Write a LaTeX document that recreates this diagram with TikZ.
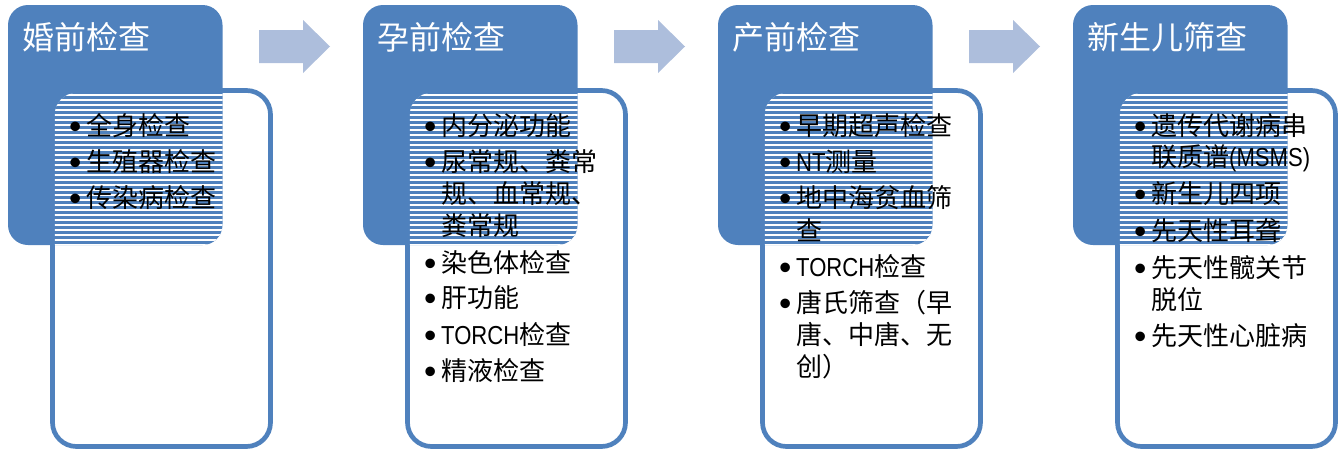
\documentclass[tikz,border=0pt]{standalone}
\usepackage{fontspec}
\setmainfont{Noto Sans CJK SC}
\newfontfamily\lat{Liberation Sans}
\definecolor{mblue}{HTML}{4F81BD}
\definecolor{arrblue}{HTML}{ADBEDC}
\newcommand{\nar}[1]{\scalebox{0.85}[1]{\lat #1}}
\newcommand{\bul}{\raisebox{-3pt}{\scalebox{1.35}{\lat\textbullet}}\hspace{4.7pt}}
\begin{document}
\begin{tikzpicture}[x=1pt,y=-1pt,
  titletext/.style={anchor=west, inner sep=0pt, text=white, font=\fontsize{32}{38}\selectfont},
  itemtext/.style={anchor=west, inner sep=0pt, text=black, font=\fontsize{26}{31}\selectfont},
  bluebox/.style={fill=mblue, rounded corners=20pt},
  listbox/.style={draw=mblue, fill=white, line width=4.7pt, rounded corners=24pt},
  flowarrow/.style={fill=arrblue}]
\useasboundingbox (0,0) rectangle (1344,450);
% boxes
\foreach \dx in {0,355,710,1065}{
  \path[bluebox] (8+\dx,5) rectangle (222.5+\dx,245);
  \path[listbox] (52.5+\dx,90.5) rectangle (270.5+\dx,446.5);
  \begin{scope}
    \clip[rounded corners=20pt] (8+\dx,5) rectangle (222.5+\dx,245);
    \clip[rounded corners=21.6pt] (54.85+\dx,92.85) rectangle (268.15+\dx,444.15);
    \fill[mblue] (0+\dx,0) rectangle (300+\dx,260);
    \foreach \yy in {95,100,...,245} \draw[white,line width=2.4pt] (40+\dx,\yy) -- (240+\dx,\yy);
  \end{scope}
}
% arrows
\foreach \dx in {0,355,710}{
  \path[flowarrow] (259+\dx,30) -- (303+\dx,30) -- (303+\dx,20) -- (330+\dx,46.5)
     -- (303+\dx,73) -- (303+\dx,63) -- (259+\dx,63) -- cycle;
}
% titles
\node[titletext] (t1) at (22,37) {婚前检查};
\node[titletext] (t2) at (377,37) {孕前检查};
\node[titletext] (t3) at (732,37) {产前检查};
\node[titletext] (t4) at (1087,37) {新生儿筛查};
% column 1
\node[itemtext] (a1) at (69,126) {\bul 全身检查};
\node[itemtext] (a2) at (69,162) {\bul 生殖器检查};
\node[itemtext] (a3) at (69,198) {\bul 传染病检查};
% column 2
\node[itemtext] (b1) at (424,126) {\bul 内分泌功能};
\node[itemtext] (b2) at (424,162.5) {\bul 尿常规、粪常};
\node[itemtext] (b2b) at (441,194) {规、血常规、};
\node[itemtext] (b2c) at (441,226) {粪常规};
\node[itemtext] (b3) at (424,262.5) {\bul 染色体检查};
\node[itemtext] (b4) at (424,298) {\bul 肝功能};
\node[itemtext] (b5) at (424,335) {\bul \nar{TORCH}检查};
\node[itemtext] (b6) at (424,371) {\bul 精液检查};
% column 3
\node[itemtext] (c1) at (779,126) {\bul 早期超声检查};
\node[itemtext] (c2) at (779,162.5) {\bul \nar{NT}测量};
\node[itemtext] (c3) at (779,198.5) {\bul 地中海贫血筛};
\node[itemtext] (c3b) at (796,230) {查};
\node[itemtext] (c4) at (779,266.5) {\bul \nar{TORCH}检查};
\node[itemtext] (c5) at (779,302.5) {\bul 唐氏筛查（早};
\node[itemtext] (c5b) at (796,334.5) {唐、中唐、无};
\node[itemtext] (c5c) at (796,366.5) {创）};
% column 4
\node[itemtext] (d1) at (1134,126) {\bul 遗传代谢病串};
\node[itemtext] (d1b) at (1151,158) {联质谱\nar{(MSMS)}};
\node[itemtext] (d2) at (1134,194.5) {\bul 新生儿四项};
\node[itemtext] (d3) at (1134,231) {\bul 先天性耳聋};
\node[itemtext] (d4) at (1134,267.5) {\bul 先天性髋关节};
\node[itemtext] (d4b) at (1151,299.5) {脱位};
\node[itemtext] (d5) at (1134,336) {\bul 先天性心脏病};
\end{tikzpicture}
\end{document}
